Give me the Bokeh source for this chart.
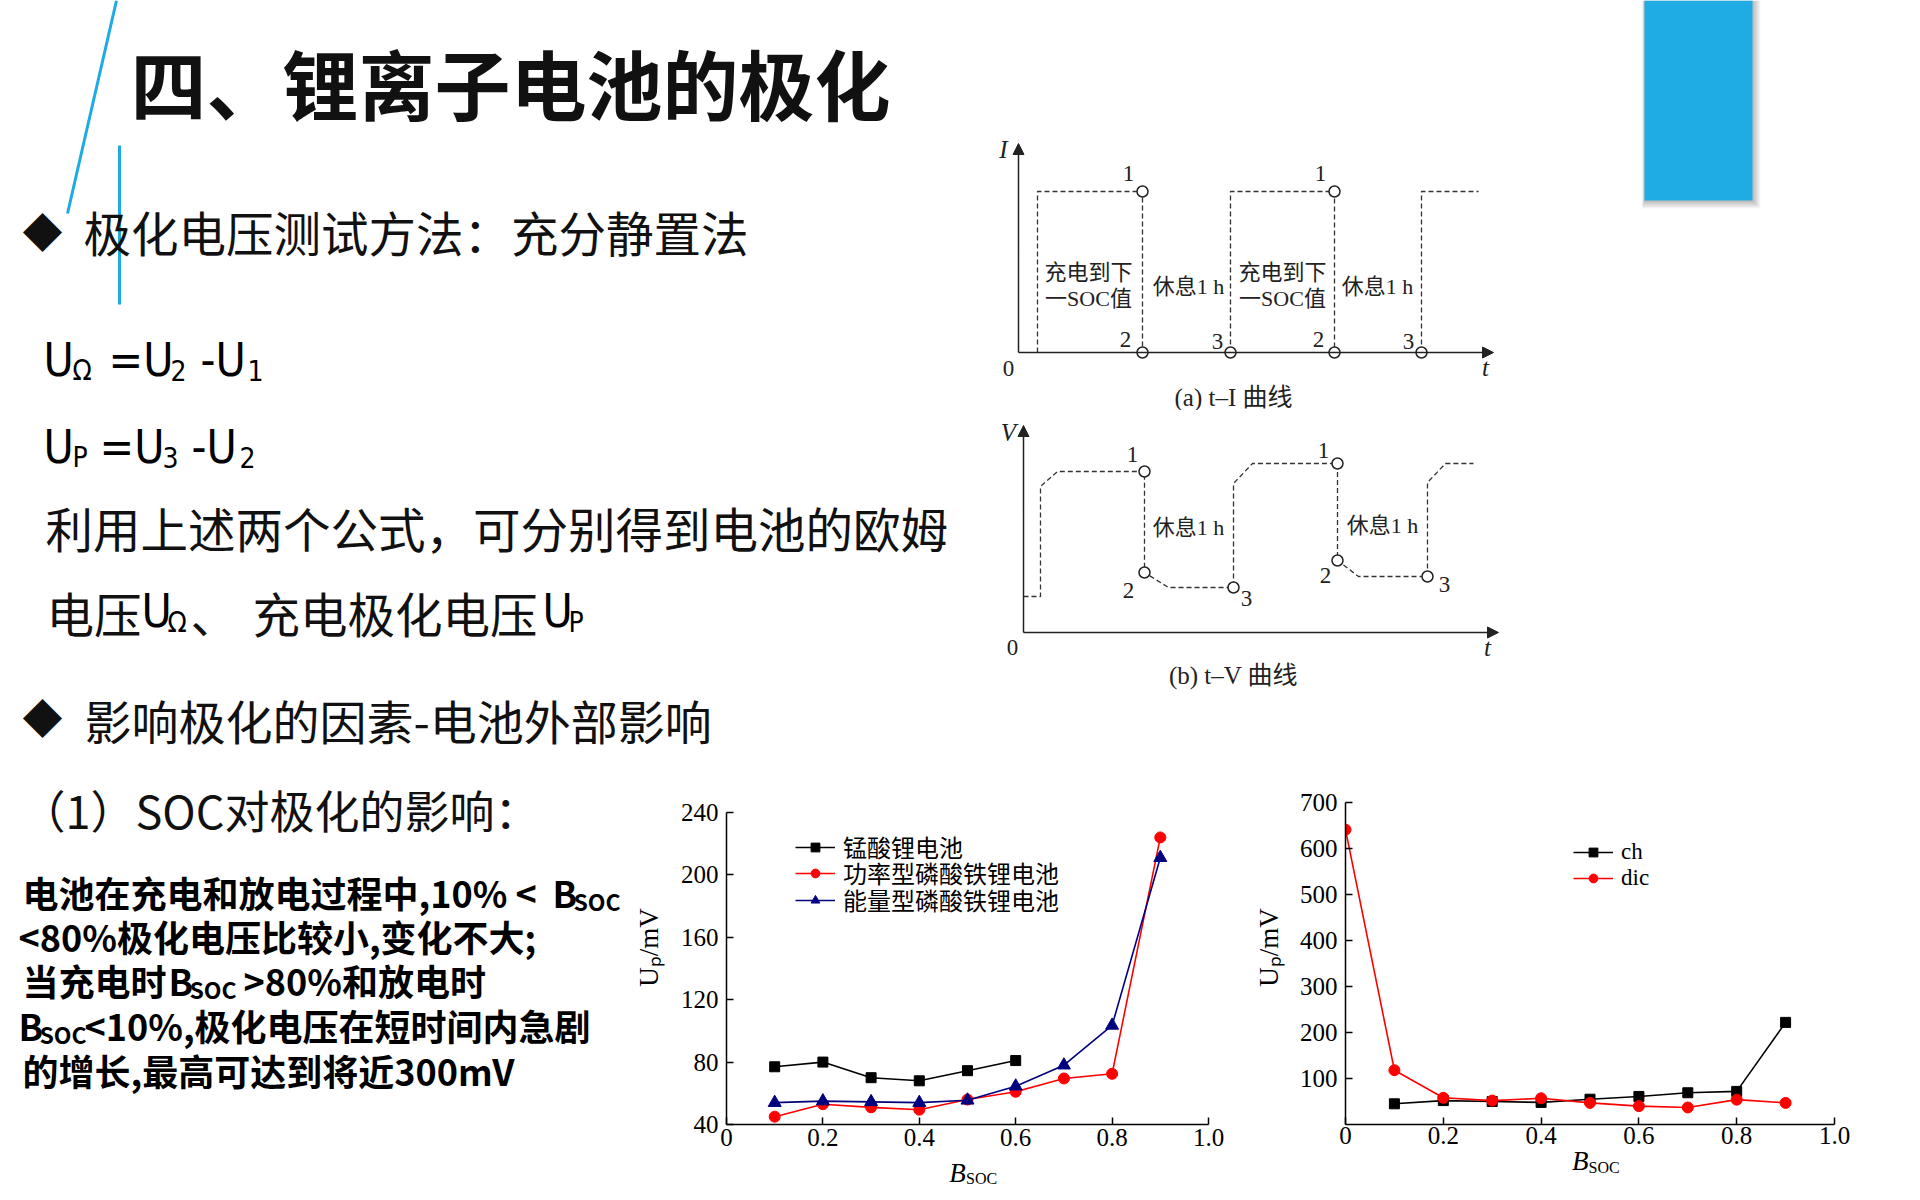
from bokeh.plotting import figure
from bokeh.models import Range1d, Spacer, Legend, LegendItem, FixedTicker, Arrow, NormalHead
from bokeh.layouts import row, column
from bokeh.embed import file_html
from bokeh.resources import INLINE
from bokeh.core.properties import value

CJK = "Noto Sans CJK SC"
SERIF = "Liberation Serif"
SERIF_CJK = "'Liberation Serif', 'Noto Sans CJK SC'"
LAT = "'Liberation Sans Narrow', 'DejaVu Sans Condensed', 'Liberation Sans'"
BLUE = "#1EAAE2"
INK = "#111111"

# ---------------- chart data ----------------
x_ticks = [0, 0.2, 0.4, 0.6, 0.8, 1.0]
y1_ticks = [40, 80, 120, 160, 200, 240]
y2_ticks = [100, 200, 300, 400, 500, 600, 700]

lmo_soc = [0.1, 0.2, 0.3, 0.4, 0.5, 0.6]
lmo_up = [77, 80, 70, 68, 74.5, 81]
lfp_soc = [0.1, 0.2, 0.3, 0.4, 0.5, 0.6, 0.7, 0.8, 0.9]
lfp_power_up = [45, 53, 51, 49.5, 56, 61, 69.5, 72.5, 224]
lfp_energy_up = [54, 55, 54.5, 54, 55.5, 64.5, 78, 103.5, 211]
series1_names = ["锰酸锂电池", "功率型磷酸铁锂电池", "能量型磷酸铁锂电池"]

ch_soc = [0.1, 0.2, 0.3, 0.4, 0.5, 0.6, 0.7, 0.8, 0.9]
ch_up = [45, 52, 50, 48, 55, 61, 69, 72, 222]
dic_soc = [0.0, 0.1, 0.2, 0.3, 0.4, 0.5, 0.6, 0.7, 0.8, 0.9]
dic_up = [641, 118, 58, 52, 57, 47, 40, 37, 54, 47]
series2_names = ["ch", "dic"]

# ---------------- schematic diagrams (arbitrary units) ----------------
ti_pulse_t = [[1.9, 1.9, 12.4, 12.4], [21.2, 21.2, 31.6, 31.6], [40.3, 40.3, 46.0]]
ti_pulse_i = [[0, 16.1, 16.1, 0], [0, 16.1, 16.1, 0], [0, 16.1, 16.1]]
ti_mark_t = [12.4, 12.4, 21.2, 31.6, 31.6, 40.3]
ti_mark_i = [16.1, 0, 0, 16.1, 0, 0]
ti_lbl_t = [11.0, 10.7, 19.9, 30.2, 30.0, 39.0]
ti_lbl_i = [17.9, 1.3, 1.1, 17.9, 1.3, 1.1]
mark_names = ["1", "2", "3", "1", "2", "3"]

tv_t = [0, 1.7, 1.7, 3.4, 12.1, 12.1, 14.5, 21.0, 21.0, 22.9, 31.4, 31.4, 33.5, 40.4, 40.4, 42.2, 45.0]
tv_v = [3.6, 3.6, 14.6, 16.1, 16.1, 6.0, 4.5, 4.5, 14.9, 16.9, 16.9, 7.2, 5.6, 5.6, 15.0, 16.9, 16.9]
tv_mark_t = [12.1, 12.1, 21.0, 31.4, 31.4, 40.4]
tv_mark_v = [16.1, 6.0, 4.5, 16.9, 7.2, 5.6]
tv_lbl_t = [10.9, 10.5, 22.3, 30.0, 30.2, 42.1]
tv_lbl_v = [17.8, 4.2, 3.4, 18.2, 5.7, 4.8]

TOP_H = 770          # height of the upper band of the slide
BOT_H = 1200 - TOP_H
FRAME_BOTTOM = 1124  # slide y of the x axes of both charts


def canvas(w, h, xr, yr, mt=0, mb=0):
    p = figure(width=w, height=h, x_range=Range1d(*xr), y_range=Range1d(*yr),
               output_backend="svg", toolbar_location=None, min_border=0,
               min_border_top=mt, min_border_bottom=mb, title=None,
               x_axis_type=None, y_axis_type=None)
    p.outline_line_color = None
    p.background_fill_color = "white"
    p.border_fill_color = "white"
    return p


def txt(p, x, y, s, size, font=CJK, style="normal", color=INK, align="left", baseline="middle"):
    p.text(x=[x], y=[y], text=[s], text_font=value(font), text_font_size=f"{size}px",
           text_font_style=style, text_color=color, text_align=align, text_baseline=baseline,
           level="overlay")


# ---------------- top-left: title and method text ----------------
fl = canvas(990, TOP_H, (0, 990), (TOP_H, 0))
fl.line(x=[116, 67], y=[0, 213], line_color=BLUE, line_width=3)
fl.line(x=[119, 119], y=[145, 304], line_color=BLUE, line_width=3)
txt(fl, 130, 81, "四、锂离子电池的极化", 76, style="bold")

txt(fl, 42, 230, "◆", 40, align="center")
txt(fl, 83, 231, "极化电压测试方法：充分静置法", 47.5)

for s, x, y, sz in [("U", 43, 359, 46), ("Ω", 72, 370, 28), ("=U", 108, 359, 46),
                    ("2", 170, 370, 28), ("-U", 200, 359, 46), ("1", 247, 370, 28)]:
    txt(fl, x, y, s, sz, font=LAT, color="black")
for s, x, y, sz in [("U", 43, 446, 46), ("P", 72, 457, 28), ("=U", 99, 446, 46),
                    ("3", 162, 457, 28), ("-U", 191, 446, 46), ("2", 239, 457, 28)]:
    txt(fl, x, y, s, sz, font=LAT, color="black")

txt(fl, 45, 527, "利用上述两个公式，可分别得到电池的欧姆", 47.5)
txt(fl, 46, 612, "电压", 47.5)
txt(fl, 141, 610, "U", 46, font=LAT, color="black")
txt(fl, 167, 622, "Ω", 28, font=LAT, color="black")
txt(fl, 190, 612, "、", 47.5)
txt(fl, 252, 612, "充电极化电压", 47.5)
txt(fl, 542, 610, "U", 46, font=LAT, color="black")
txt(fl, 568, 622, "P", 28, font=LAT, color="black")

txt(fl, 42, 716, "◆", 40, align="center")
txt(fl, 84, 719, "影响极化的因素-电池外部影响", 47)

# ---------------- top-middle: t-I and t-V schematics ----------------
def arrow(p, x1, y1):
    p.add_layout(Arrow(end=NormalHead(size=11, fill_color="#222", line_color="#222"),
                       x_start=0, y_start=0, x_end=x1, y_end=y1, line_width=1.5, line_color="#222"))


fti = canvas(530, 300, (-2.8, 50.2), (-5.8, 24.2))
arrow(fti, 0, 20.9)
arrow(fti, 47.5, 0)
fti.multi_line(xs=ti_pulse_t, ys=ti_pulse_i, line_color="#333", line_width=1.3, line_dash="5 3")
fti.scatter(x=ti_mark_t, y=ti_mark_i, size=11, fill_color="white", line_color="#222", line_width=1.5)
fti.text(x=ti_lbl_t, y=ti_lbl_i, text=mark_names, text_font=value(SERIF), text_font_size="23px",
         text_align="center", text_baseline="middle", text_color="#222")
txt(fti, -1.5, 20.3, "I", 25, font=SERIF, style="italic", color="#222", align="center")
txt(fti, -1.0, -1.6, "0", 23, font=SERIF, color="#222", align="center")
txt(fti, 46.7, -1.5, "t", 25, font=SERIF, style="italic", color="#222", align="center")
for cx in [7.0, 26.4]:
    txt(fti, cx, 8.0, "充电到下", 22, font=SERIF_CJK, color="#222", align="center")
    txt(fti, cx, 5.4, "一SOC值", 22, font=SERIF_CJK, color="#222", align="center")
for cx in [17.0, 35.9]:
    txt(fti, cx, 6.6, "休息1 h", 22, font=SERIF_CJK, color="#222", align="center")
txt(fti, 21.5, -4.5, "(a) t–I 曲线", 25, font=SERIF_CJK, color="#222", align="center")

ftv = canvas(530, 290, (-3.3, 49.7), (-6.8, 22.2))
arrow(ftv, 0, 20.7)
arrow(ftv, 47.5, 0)
ftv.line(x=tv_t, y=tv_v, line_color="#333", line_width=1.3, line_dash="5 3")
ftv.scatter(x=tv_mark_t, y=tv_mark_v, size=11, fill_color="white", line_color="#222", line_width=1.5)
ftv.text(x=tv_lbl_t, y=tv_lbl_v, text=mark_names, text_font=value(SERIF), text_font_size="23px",
         text_align="center", text_baseline="middle", text_color="#222")
txt(ftv, -1.5, 20.0, "V", 25, font=SERIF, style="italic", color="#222", align="center")
txt(ftv, -1.1, -1.5, "0", 23, font=SERIF, color="#222", align="center")
txt(ftv, 46.4, -1.5, "t", 25, font=SERIF, style="italic", color="#222", align="center")
for cx, cy in [(16.5, 10.5), (35.9, 10.7)]:
    txt(ftv, cx, cy, "休息1 h", 22, font=SERIF_CJK, color="#222", align="center")
txt(ftv, 21.0, -4.3, "(b) t–V 曲线", 25, font=SERIF_CJK, color="#222", align="center")

diag_col = column(Spacer(width=530, height=110), fti, ftv,
                  Spacer(width=530, height=TOP_H - 700), spacing=0)

# ---------------- top-right: blue block ----------------
fr = canvas(400, TOP_H, (0, 400), (TOP_H, 0))
for k in range(1, 9):
    fr.quad(left=[124 - k * 0.3], right=[232 + k], top=[0], bottom=[200 + k],
            fill_color="#000000", fill_alpha=0.035, line_color=None)
fr.quad(left=[124], right=[232], top=[0], bottom=[200], fill_color="#1FABE3", line_color=None)

top = row(fl, diag_col, fr, spacing=0)

# ---------------- bottom-left: SOC text (local y = slide y - 770) ----------------
fb = canvas(630, BOT_H, (0, 630), (FRAME_BOTTOM - TOP_H, 0), mt=0, mb=1200 - FRAME_BOTTOM)
txt(fb, 20, 39, "（1）SOC对极化的影响：", 45)
B = "bold"
txt(fb, 22, 121, "电池在充电和放电过程中,10% <", 36, style=B, color="black")
txt(fb, 552, 121, "B", 36, style=B, color="black")
txt(fb, 573, 130, "SOC", 23, style=B, color="black")
txt(fb, 18, 165, "<80%极化电压比较小,变化不大;", 36, style=B, color="black")
txt(fb, 22, 209, "当充电时", 36, style=B, color="black")
txt(fb, 168, 209, "B", 36, style=B, color="black")
txt(fb, 189, 218, "SOC", 23, style=B, color="black")
txt(fb, 243, 209, ">80%和放电时", 36, style=B, color="black")
txt(fb, 18, 254, "B", 36, style=B, color="black")
txt(fb, 39, 263, "SOC", 23, style=B, color="black")
txt(fb, 84, 254, "<10%,极化电压在短时间内急剧", 36, style=B, color="black")
txt(fb, 22, 299, "的增长,最高可达到将近300mV", 36, style=B, color="black")


# ---------------- data charts (shared frame: slide y 770..1124) ----------------
def make_chart(width, mb_l, mb_r, yr, ybounds, yticks, tick_so, ylab_so):
    p = figure(width=width, height=BOT_H, x_range=Range1d(0, 1), y_range=Range1d(*yr),
               output_backend="svg", toolbar_location=None, title=None,
               min_border_left=mb_l, min_border_right=mb_r, min_border_top=0,
               min_border_bottom=1200 - FRAME_BOTTOM)
    p.outline_line_color = None
    p.grid.visible = False
    p.background_fill_color = "white"
    p.border_fill_color = "white"
    p.xaxis.ticker = FixedTicker(ticks=x_ticks)
    p.yaxis.ticker = FixedTicker(ticks=yticks)
    p.xaxis.major_label_overrides = {0: "0", 1: "1.0"}
    for ax in (p.xaxis[0], p.yaxis[0]):
        ax.axis_line_width = 1.5
        ax.axis_line_color = "black"
        ax.major_tick_in = 7
        ax.major_tick_out = 0
        ax.major_tick_line_width = 1.5
        ax.major_tick_line_color = "black"
        ax.minor_tick_in = 0
        ax.minor_tick_out = 0
        ax.major_label_text_font = SERIF
        ax.major_label_text_font_size = "25px"
        ax.major_label_text_color = "black"
        ax.axis_label_text_font = SERIF
        ax.axis_label_text_font_size = "27px"
        ax.axis_label_text_font_style = "normal"
        ax.axis_label_text_color = "black"
    p.yaxis.bounds = ybounds
    p.xaxis.major_label_standoff = tick_so
    p.yaxis.major_label_standoff = 8
    p.yaxis.axis_label = "Uₚ/mV"
    p.yaxis.axis_label_standoff = ylab_so
    return p


def soc_label(p, xb, yb, xs, ys):
    p.text(x=[xb], y=[yb], text=["B"], text_font=value(SERIF), text_font_size="27px",
           text_font_style="italic", text_color="black", text_align="center",
           text_baseline="middle", level="overlay")
    p.text(x=[xs], y=[ys], text=["SOC"], text_font=value(SERIF), text_font_size="16px",
           text_color="black", text_align="left", text_baseline="middle", level="overlay")


def legend_row(p, label, renderers, vx, vy, font, size):
    p.add_layout(Legend(items=[LegendItem(label=label, renderers=renderers)],
                        location=(vx, vy), border_line_color=None, background_fill_alpha=0,
                        label_text_font=font, label_text_font_size=size, label_text_color="black",
                        glyph_width=40, glyph_height=22, label_height=22, spacing=0,
                        padding=0, margin=0, label_standoff=8))


# chart 1: 240 at slide y 812, 40 at 1124 -> 0.641 mV per px; frame top at 770
c1 = make_chart(610, 94, 32, (40, 266.9), (40, 240), y1_ticks, 4, 14)
l1 = c1.line(lmo_soc, lmo_up, line_color="black", line_width=1.6)
m1 = c1.scatter(lmo_soc, lmo_up, marker="square", size=10, fill_color="black", line_color="black")
l2 = c1.line(lfp_soc, lfp_power_up, line_color="#FF0000", line_width=1.6)
m2 = c1.scatter(lfp_soc, lfp_power_up, marker="circle", size=11, fill_color="#FF0000", line_color="#FF0000")
l3 = c1.line(lfp_soc, lfp_energy_up, line_color="#00007F", line_width=1.6)
m3 = c1.scatter(lfp_soc, lfp_energy_up, marker="triangle", size=13, fill_color="#00007F", line_color="#00007F")
legend_row(c1, series1_names[0], [l1, m1], 69, 260, SERIF_CJK, "24px")
legend_row(c1, series1_names[1], [l2, m2], 69, 234, SERIF_CJK, "24px")
legend_row(c1, series1_names[2], [l3, m3], 69, 207, SERIF_CJK, "24px")
soc_label(c1, 0.479, 8.6, 0.497, 5.4)

# chart 2: 700 at slide y 802, 0 at 1124 -> 2.174 mV per px; frame top at 770
c2 = make_chart(680, 105, 86, (0, 769.6), (0, 700), y2_ticks, 2, 13)
k1 = c2.line(ch_soc, ch_up, line_color="black", line_width=1.6)
n1 = c2.scatter(ch_soc, ch_up, marker="square", size=10, fill_color="black", line_color="black")
k2 = c2.line(dic_soc, dic_up, line_color="#FF0000", line_width=1.6)
n2 = c2.scatter(dic_soc, dic_up, marker="circle", size=11, fill_color="#FF0000", line_color="#FF0000")
c2.add_layout(Legend(items=[LegendItem(label=series2_names[0], renderers=[k1, n1]),
                            LegendItem(label=series2_names[1], renderers=[k2, n2])],
                     location=(228, 233), border_line_color=None, background_fill_alpha=0,
                     label_text_font=SERIF, label_text_font_size="23px", label_text_color="black",
                     glyph_width=40, glyph_height=22, label_height=22, spacing=0, padding=0,
                     margin=0, label_standoff=8))
soc_label(c2, 0.48, -80.4, 0.497, -93.5)

bottom = row(fb, c1, c2, spacing=0)
layout = column(top, bottom, spacing=0)

open("out.html", "w").write(file_html(layout, INLINE))
